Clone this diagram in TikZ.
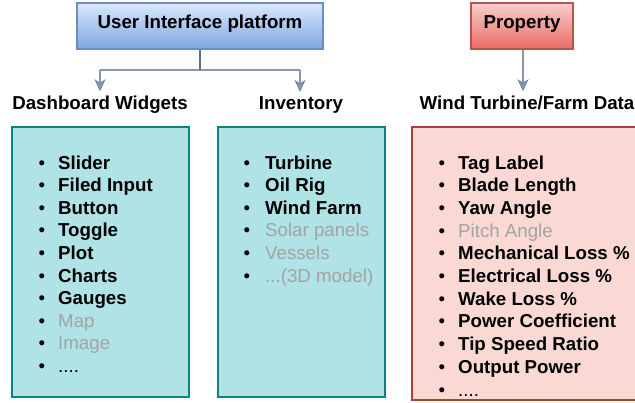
\documentclass[tikz,border=0pt]{standalone}
\usepackage{fontspec}
\setmainfont{Liberation Sans}
\usetikzlibrary{arrows.meta}

\definecolor{uiTop}{HTML}{DAE8FC}
\definecolor{uiBot}{HTML}{7EA6E0}
\definecolor{uiEdge}{HTML}{6C8EBF}
\definecolor{prTop}{HTML}{F8CECC}
\definecolor{prBot}{HTML}{EA6B66}
\definecolor{prEdge}{HTML}{B85450}
\definecolor{tealFill}{HTML}{B0E3E6}
\definecolor{tealEdge}{HTML}{0E8088}
\definecolor{pinkFill}{HTML}{FAD9D5}
\definecolor{pinkEdge}{HTML}{AE4132}
\definecolor{linkCol}{HTML}{8A97B0}
\definecolor{stemCol}{HTML}{5D6D8E}
\definecolor{faintGray}{HTML}{A3A3A3}

\newcommand{\faint}{\mdseries\color{faintGray}}
\newcommand{\bigfont}{\fontsize{18.7}{22}\selectfont}
\newcommand{\fourdots}{\mdseries ....}
\newcommand{\threedots}{...}

\tikzset{
  hdrbox/.style={draw, line width=1.3pt, font=\bfseries\bigfont,
    text height=13.6pt, text depth=8.6pt, inner sep=0pt},
  caption/.style={font=\bfseries\bigfont, anchor=base, inner sep=4pt},
  listbox/.style={draw, line width=1.2pt, inner sep=0pt},
  itemtext/.style={font=\bfseries\bigfont, anchor=base west, inner sep=0pt},
  bullet/.style={font=\bigfont, anchor=base, inner sep=0pt},
  link/.style={draw=linkCol, line width=1.8pt},
  linkarrow/.style={link, line cap=butt,
    -{Stealth[length=12pt,width=11pt,inset=3.5pt,line width=0.9pt,color=stemCol!85,fill=linkCol]}},
}

\begin{document}
\begin{tikzpicture}[x=1pt,y=-1pt]
\useasboundingbox (0,0) rectangle (635,402);

% top-level boxes
\node[hdrbox, top color=uiTop, bottom color=uiBot, draw=uiEdge,
      minimum width=246pt, minimum height=46pt] (ui) at (200,26) {User Interface platform};
\node[hdrbox, top color=prTop, bottom color=prBot, draw=prEdge,
      minimum width=102pt, minimum height=46pt] (prop) at (522,26) {Property};

% captions
\node[caption] (dw)  at (100,109) {Dashboard Widgets};
\node[caption] (inv) at (301,109) {Inventory};
\node[caption] (wt)  at (527,109) {Wind Turbine/Farm Data};

% connectors
\coordinate (j)  at (200,70);
\coordinate (jl) at (100,70);
\coordinate (jr) at (300,70);
\coordinate (pa) at (523,0);
\draw[link] (jl) -- (jr);
\draw[linkarrow] (jl) -- (jl |- dw.north);
\draw[linkarrow] (jr) -- (jr |- inv.north);
\draw[draw=stemCol, line width=1.8pt] (ui.south) -- (j);
\draw[linkarrow] (pa |- prop.south) -- (pa |- wt.north);

% list panels
\node[listbox, fill=tealFill, draw=tealEdge, minimum width=177pt, minimum height=270pt] (wbox) at (100.5,262) {};
\node[listbox, fill=tealFill, draw=tealEdge, minimum width=167pt, minimum height=270pt] (ibox) at (301.5,262) {};
\node[listbox, fill=pinkFill, draw=pinkEdge, minimum width=240pt, minimum height=273pt] (pbox) at (532,263.5) {};

% widget list
\foreach \t [count=\i] in {Slider, Filed Input, Button, Toggle, Plot, Charts, Gauges,
    {\faint Map}, {\faint Image}, {\fourdots}} {
  \node[bullet] (wb\i) at (42,{169+22.6*(\i-1)}) {\textbullet};
  \node[itemtext] (wi\i) at (58,{169+22.6*(\i-1)}) {\t};
}

% inventory list
\foreach \t [count=\i] in {Turbine, Oil Rig, Wind Farm, {\faint Solar panels},
    {\faint Vessels}, {\faint \threedots(3D model)}} {
  \node[bullet] (ib\i) at (247,{169+22.6*(\i-1)}) {\textbullet};
  \node[itemtext] (ii\i) at (265,{169+22.6*(\i-1)}) {\t};
}

% property list
\foreach \t [count=\i] in {Tag Label, Blade Length, Yaw Angle, {\faint Pitch Angle},
    Mechanical Loss \%, Electrical Loss \%, Wake Loss \%, Power Coefficient,
    Tip Speed Ratio, Output Power, {\fourdots}} {
  \node[bullet] (pb\i) at (442,{169+22.7*(\i-1)}) {\textbullet};
  \node[itemtext] (pi\i) at (458,{169+22.7*(\i-1)}) {\t};
}
\end{tikzpicture}
\end{document}
